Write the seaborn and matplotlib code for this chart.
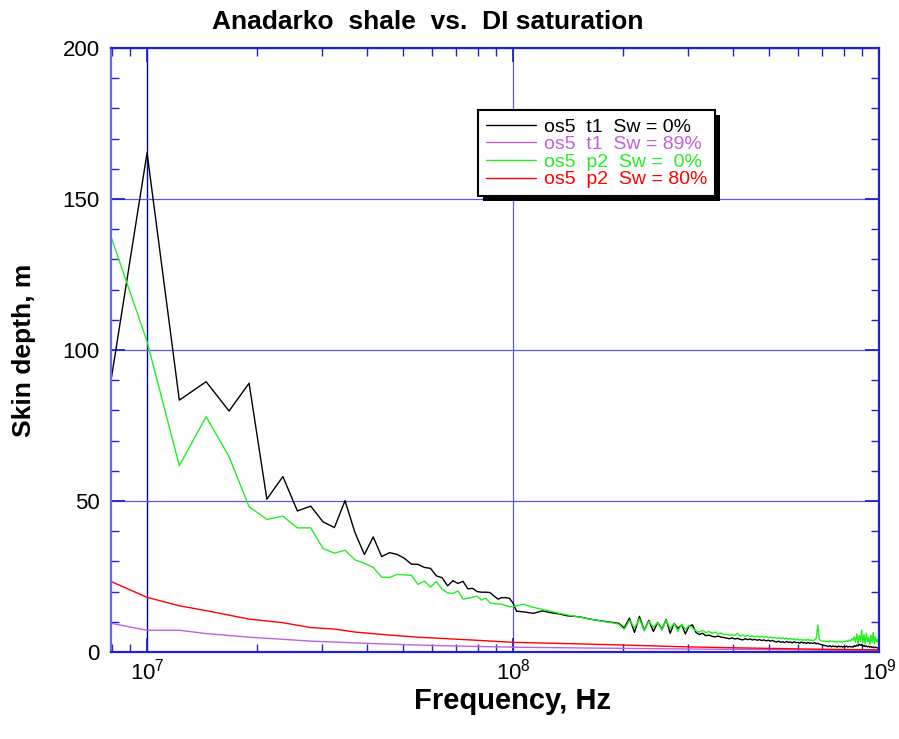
import numpy as np
import pandas as pd
import matplotlib
matplotlib.use("Agg")
import matplotlib.pyplot as plt
import matplotlib.transforms as mtrans
from matplotlib.patches import Rectangle
from matplotlib.ticker import MultipleLocator, LogLocator, LogFormatterSciNotation, NullFormatter
import seaborn as sns

# ---------------- data ----------------
series_labels = ["os5  t1  Sw = 0%", "os5  t1  Sw = 89%", "os5  p2  Sw =  0%", "os5  p2  Sw = 80%"]
series_colors = ["#000000", "#c060e0", "#22ee22", "#ff0000"]

# low-frequency part (linear sampling, 2.25 MHz step starting at 7.75 MHz)
f_lo_start = 7.75e6
f_lo_step = 2.25e6
black_lo = [80.6, 165.3, 83.4, 89.5, 79.8, 89.0, 50.6, 58.1, 46.7, 48.3,
            43.1, 41.2, 50.1, 39.5, 32.3, 38.1, 31.6, 32.9, 32.3, 31.0,
            29.1, 29.0, 28.0, 27.7, 25.2, 24.6, 21.9, 23.6, 22.7, 23.4,
            20.9, 21.1, 20.0, 19.8, 19.8, 19.7, 18.5, 17.5, 18.0, 18.0,
            17.8, 16.2, 13.5]
green_lo = [141.8, 102.8, 61.7, 77.9, 64.7, 48.1, 43.9, 45.0, 41.1, 41.1,
            34.3, 32.7, 33.7, 30.5, 29.4, 28.0, 24.8, 24.7, 25.7, 25.5,
            25.4, 22.4, 23.5, 21.5, 23.3, 20.8, 19.6, 19.4, 20.2, 17.5,
            17.8, 18.1, 18.5, 17.2, 17.8, 16.3, 16.0, 15.9, 15.8, 15.4,
            15.0, 15.0, 15.3]

# high-frequency part (6.75 MHz step starting at 106.75 MHz)
f_hi_start = 1.0675e8
f_hi_step = 6.75e6
black_hi = [13.3, 12.8, 13.6, 13.0, 12.6, 12.0, 11.8, 11.5, 11.0, 10.6,
            10.3, 10.0, 9.7, 9.5, 8.0, 11.2, 6.5, 11.8, 7.2, 10.5,
            6.8, 9.8, 7.5, 10.8, 6.2, 9.5, 7.8, 9.0, 6.0, 8.5,
            9.0, 6.5, 5.8, 6.2, 5.4, 5.6, 5.2, 5.0, 5.3, 4.9,
            4.8, 4.6, 4.4, 4.7, 4.3, 4.5, 4.2, 4.0, 4.4, 4.1,
            4.3, 4.0, 4.2, 3.9, 4.1, 3.8, 4.0, 3.7, 3.9, 3.6,
            3.8, 3.5, 3.3, 3.6, 3.2, 3.4, 3.1, 3.5, 3.2, 3.3,
            3.0, 3.4, 3.1, 3.2, 2.9, 3.3, 3.0, 3.1, 2.8, 3.2,
            2.9, 3.0, 2.8, 3.1, 2.7, 2.9, 2.6, 2.5, 2.3, 2.2,
            2.1, 2.0, 1.8, 2.1, 1.7, 2.0, 1.8, 1.9, 1.6, 2.0,
            1.7, 1.9, 1.6, 1.8, 1.7, 2.0, 1.6, 1.9, 1.7, 1.8,
            1.6, 2.1, 1.8, 2.3, 2.0, 2.6, 2.2, 2.5, 1.9, 2.2,
            1.8, 2.0, 1.7, 1.9, 1.6, 1.8, 1.5, 1.7, 1.4, 1.6,
            1.5, 1.3, 1.4]
green_hi = [15.8, 14.8, 14.1, 13.5, 12.8, 12.3, 11.8, 11.4, 11.0, 10.6,
            10.2, 9.9, 9.6, 9.2, 7.5, 10.5, 8.0, 11.0, 7.0, 10.2,
            8.2, 9.8, 7.2, 10.6, 7.8, 9.5, 6.8, 9.2, 7.5, 8.8,
            8.0, 7.0, 6.6, 7.2, 6.4, 6.8, 6.2, 6.6, 6.0, 6.3,
            5.8, 5.9, 5.5, 5.8, 5.4, 6.2, 5.3, 5.6, 5.2, 5.5,
            5.1, 5.4, 5.0, 5.3, 4.9, 5.2, 4.8, 5.1, 4.7, 5.0,
            4.6, 4.9, 4.5, 4.8, 4.4, 4.7, 4.3, 4.6, 4.2, 4.5,
            4.1, 4.4, 4.0, 4.3, 3.9, 4.2, 3.8, 4.1, 3.9, 4.2,
            3.8, 4.0, 3.7, 4.1, 4.5, 8.9, 4.2, 3.8, 3.5, 3.7,
            3.4, 3.6, 3.3, 3.7, 3.4, 3.6, 3.3, 3.5, 3.2, 3.6,
            3.3, 3.5, 3.2, 3.6, 3.4, 3.8, 3.5, 4.0, 3.6, 4.4,
            3.9, 5.0, 3.2, 6.0, 2.8, 5.5, 3.5, 7.3, 3.0, 5.8,
            2.6, 6.2, 3.4, 4.8, 2.5, 5.6, 3.1, 6.5, 2.7, 5.0,
            3.3, 4.2, 2.8]

# smooth curves
smooth_freq = [7.75e6, 1.0e7, 1.225e7, 1.45e7, 1.9e7, 2.35e7, 2.8e7, 3.25e7, 3.7e7,
               4.6e7, 5.5e7, 6.85e7, 8.2e7, 1.0e8, 1.5e8, 2.0e8, 3.0e8, 4.0e8,
               5.0e8, 7.0e8, 1.0e9]
purple_vals = [9.8, 7.2, 7.2, 6.1, 4.9, 4.2, 3.6, 3.3, 3.0,
               2.6, 2.3, 2.0, 1.8, 1.6, 1.35, 1.2, 1.0, 0.9,
               0.8, 0.6, 0.5]
red_vals = [24.0, 18.1, 15.3, 13.7, 10.9, 9.7, 8.1, 7.6, 6.6,
            5.6, 4.9, 4.3, 3.8, 3.2, 2.7, 2.3, 1.7, 1.4,
            1.2, 0.9, 0.7]

x_ticks = [1e7, 1e8, 1e9]
y_ticks = [0, 50, 100, 150, 200]

# ---------------- build table ----------------
freq_lo = f_lo_start + f_lo_step * np.arange(len(black_lo))
freq_hi = f_hi_start + f_hi_step * np.arange(len(black_hi))
frames = [
    pd.DataFrame({"freq": np.concatenate([freq_lo, freq_hi]),
                  "depth": np.concatenate([black_lo, black_hi]),
                  "series": series_labels[0]}),
    pd.DataFrame({"freq": smooth_freq, "depth": purple_vals, "series": series_labels[1]}),
    pd.DataFrame({"freq": np.concatenate([freq_lo, freq_hi]),
                  "depth": np.concatenate([green_lo, green_hi]),
                  "series": series_labels[2]}),
    pd.DataFrame({"freq": smooth_freq, "depth": red_vals, "series": series_labels[3]}),
]
df = pd.concat(frames, ignore_index=True)

# ---------------- style ----------------
sns.set_theme(style="white")
plt.rcParams["font.family"] = ["Liberation Sans", "DejaVu Sans"]
plt.rcParams["mathtext.fontset"] = "custom"
plt.rcParams["mathtext.rm"] = "Liberation Sans"
plt.rcParams["text.color"] = "black"
plt.rcParams["axes.labelcolor"] = "black"
plt.rcParams["xtick.labelcolor"] = "black"
plt.rcParams["ytick.labelcolor"] = "black"

fig = plt.figure(figsize=(8.99, 7.39), dpi=100)
ax = fig.add_axes([111 / 899, 1 - 652 / 739, 768 / 899, 604 / 739])

sns.lineplot(data=df, x="freq", y="depth", hue="series", hue_order=series_labels,
             palette=series_colors, estimator=None, linewidth=1.0, ax=ax, legend=True)

ax.set_xscale("log")
ax.set_xlim(7.97e6, 1e9)
ax.set_ylim(0, 200)

frame_blue = "#2222cc"
grid_blue = "#5a5ae0"

ax.xaxis.set_major_locator(LogLocator(base=10, numticks=10))
ax.xaxis.set_minor_locator(LogLocator(base=10, subs=np.arange(2, 10), numticks=20))
ax.xaxis.set_major_formatter(LogFormatterSciNotation())
ax.xaxis.set_minor_formatter(NullFormatter())
ax.set_yticks(y_ticks)
ax.yaxis.set_minor_locator(MultipleLocator(10))

ax.tick_params(which="both", direction="in", top=True, right=True, left=True, bottom=True,
               color=frame_blue, labelsize=16, labelcolor="black")
ax.tick_params(which="major", length=10, width=1.3)
ax.tick_params(which="minor", length=6, width=1.0)
ax.tick_params(axis="y", pad=8)
ax.tick_params(axis="x", pad=5)

for side, sp in ax.spines.items():
    sp.set_visible(True)
    sp.set_color(frame_blue if side != "left" else "#6a6ae8")
    sp.set_linewidth(1.6)

ax.grid(True, which="major", color=grid_blue, linewidth=0.9)
ax.grid(False, which="minor")
fig.canvas.draw()
for t in ax.xaxis.get_major_ticks():
    if abs(t.get_loc() - x_ticks[0]) < 1:
        t.gridline.set_color("#0000b0")
        t.gridline.set_linewidth(1.0)

ax.set_xlabel("Frequency, Hz", fontsize=21, fontweight="bold", color="black")
ax.set_ylabel("Skin depth, m", fontsize=19, fontweight="bold", color="black")
ax.xaxis.set_label_coords(0.523, -0.058)
ax.yaxis.set_label_coords(-0.098, 0.5)

fig.text(428 / 899, 1 - 22 / 739, "Anadarko  shale  vs.  DI saturation",
         fontsize=19, fontweight="bold", ha="center", va="center", color="black")

# legend
handles, labels = ax.get_legend_handles_labels()
leg = ax.legend(handles, labels, loc="upper left", bbox_to_anchor=(0.478, 0.897),
                borderaxespad=0, fontsize=14, handlelength=2.6, handletextpad=0.4,
                labelspacing=0.0, borderpad=0.4, fancybox=False, framealpha=1,
                edgecolor="black")
leg.get_frame().set_linewidth(1.5)
for txt, col in zip(leg.get_texts(), series_colors):
    txt.set_color(col)
for ln in leg.get_lines():
    ln.set_linewidth(1.0)

fig.canvas.draw()
bb = leg.get_window_extent()
shadow = Rectangle((bb.x0 + 5, bb.y0 - 5), bb.width, bb.height,
                   transform=mtrans.IdentityTransform(), facecolor="black",
                   edgecolor="none", zorder=leg.get_zorder() - 0.1, clip_on=False)
ax.add_patch(shadow)

fig.savefig("out.png", dpi=100)
